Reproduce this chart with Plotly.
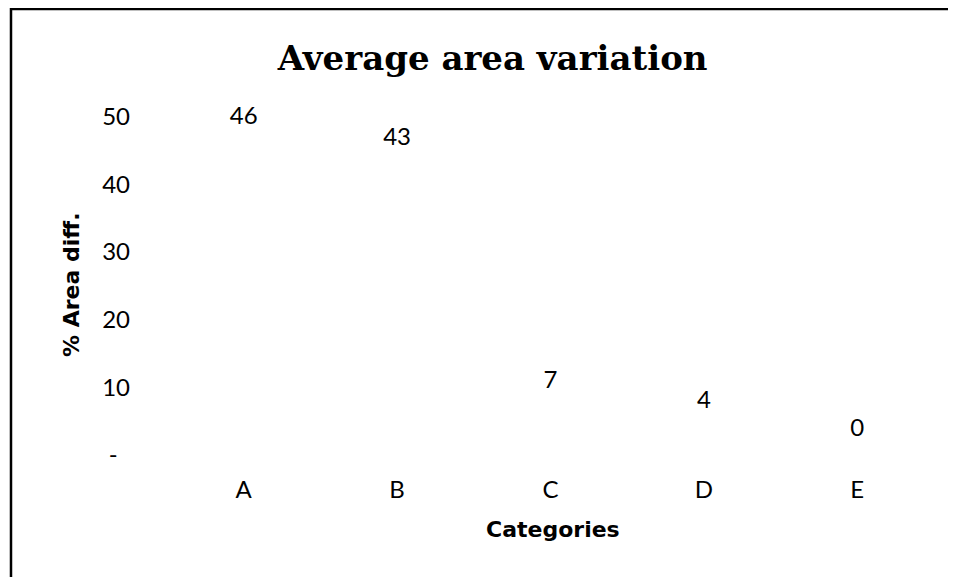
import plotly.graph_objects as go

categories = ["A", "B", "C", "D", "E"]
values = [46, 43, 7, 4, 0]
tick_vals = [0, 10, 20, 30, 40, 50]
tick_text = ["-\u00a0\u00a0", "10", "20", "30", "40", "50"]

body_font = "Lato, 'Open Sans', sans-serif"
bold_font = "'DejaVu Sans', sans-serif"

fig = go.Figure()
fig.add_trace(go.Scatter(
    x=categories, y=values,
    mode="markers+text",
    text=[str(v) for v in values],
    textposition="top center",
    textfont=dict(family=body_font, size=24, color="#000000"),
    marker=dict(size=20, color="rgba(0,0,0,0)"),
    hoverinfo="skip",
    showlegend=False,
    cliponaxis=False,
))

fig.update_layout(
    width=956, height=577,
    margin=dict(l=159, r=30, t=75, b=130),
    paper_bgcolor="white", plot_bgcolor="white",
    title=dict(
        text="<b>Average area variation</b>",
        font=dict(family="'DejaVu Serif', serif", size=34, color="#000000"),
        x=0.507, xanchor="center", y=0.913, yanchor="middle",
    ),
    xaxis=dict(
        type="category", range=[-0.5, 4.5], automargin=False,
        showgrid=False, zeroline=False, showline=False,
        ticks="", ticklabelstandoff=18,
        tickfont=dict(family=body_font, size=24, color="#000000"),
    ),
    yaxis=dict(
        range=[0, 55], automargin=False,
        tickvals=tick_vals, ticktext=tick_text,
        showgrid=False, zeroline=False, showline=False,
        ticks="", ticklabelstandoff=36,
        tickfont=dict(family=body_font, size=24, color="#000000"),
    ),
    annotations=[
        dict(text="<b>Categories</b>", xref="paper", yref="paper",
             x=0.503, y=-0.2016, xanchor="center", yanchor="middle",
             showarrow=False,
             font=dict(family=bold_font, size=22, color="#000000")),
        dict(text="<b>% Area diff.</b>", xref="paper", yref="paper",
             x=-0.1239, y=0.457, xanchor="center", yanchor="middle",
             textangle=-90, showarrow=False,
             font=dict(family=bold_font, size=22, color="#000000")),
    ],
    shapes=[dict(
        type="rect", xref="paper", yref="paper",
        x0=-0.2034, x1=1.3, y0=-0.6, y1=1.199,
        line=dict(color="#000000", width=2.5), fillcolor="rgba(0,0,0,0)",
        layer="above",
    )],
)

fig.write_html("out.html")
